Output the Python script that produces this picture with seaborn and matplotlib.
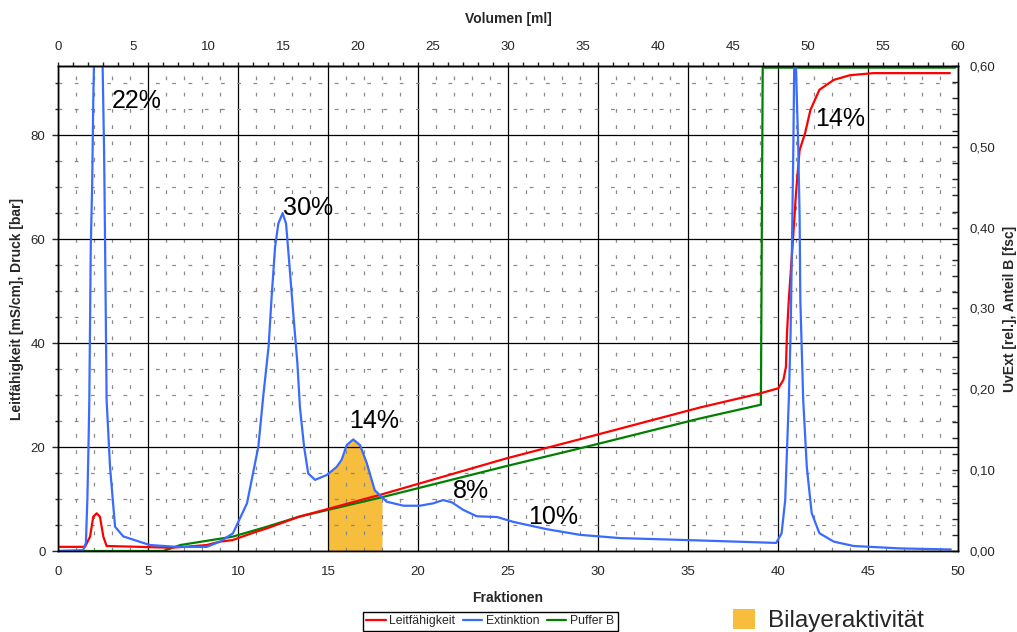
import numpy as np
import pandas as pd
import matplotlib
matplotlib.use("Agg")
import matplotlib.pyplot as plt
import seaborn as sns
from matplotlib.ticker import MultipleLocator, FixedLocator, FuncFormatter
from matplotlib.lines import Line2D
from matplotlib.patches import Patch

# ---- Chromatogram data --------------------------------------------------
# Extinktion (UV, relative units, right axis) vs. fraction number
ext_frac = [0.0, 1.4, 1.55, 1.63, 1.69, 1.74, 1.82, 1.90, 1.96, 2.05,
            2.20, 2.38, 2.48, 2.56, 2.61, 2.70, 2.89, 3.17, 3.63, 5.1,
            6.6, 8.26, 9.0, 9.72, 10.5, 11.13, 11.4, 11.7, 11.87, 12.06,
            12.24, 12.48, 12.67, 12.85, 13.07, 13.3, 13.44, 13.67, 13.9, 14.28,
            14.93, 15.48, 15.76, 16.04, 16.4, 16.78, 17.15, 17.6, 18.26, 19.2,
            20.1, 20.85, 21.4, 21.9, 22.5, 23.26, 24.4, 25.3, 27.15, 29.0,
            31.2, 35.7, 39.9, 40.2, 40.4, 40.5, 40.6, 40.7, 40.76, 40.85,
            40.9, 40.95, 41.0, 41.13, 41.2, 41.24, 41.4, 41.6, 41.87, 42.3,
            43.1, 44.2, 46.8, 49.6]
ext_val = [0.000, 0.001, 0.010, 0.063, 0.125, 0.187, 0.376, 0.455, 0.558, 0.660,
           0.750, 0.660, 0.598, 0.495, 0.393, 0.187, 0.104, 0.030, 0.018, 0.0074,
           0.0051, 0.0051, 0.0116, 0.0219, 0.059, 0.129, 0.191, 0.253, 0.315, 0.376,
           0.405, 0.418, 0.405, 0.356, 0.294, 0.232, 0.178, 0.129, 0.096, 0.088,
           0.094, 0.104, 0.113, 0.131, 0.138, 0.131, 0.109, 0.075, 0.061, 0.056,
           0.056, 0.059, 0.063, 0.060, 0.051, 0.043, 0.042, 0.036, 0.027, 0.020,
           0.016, 0.013, 0.010, 0.022, 0.063, 0.125, 0.187, 0.270, 0.354, 0.495,
           0.598, 0.650, 0.598, 0.495, 0.414, 0.311, 0.187, 0.104, 0.047, 0.022,
           0.0116, 0.0062, 0.0032, 0.0019]

# Leitfähigkeit (mS/cm, left axis)
cond_frac = [0.0, 1.5, 1.78, 1.96, 2.15, 2.33, 2.52, 2.7, 4.0, 6.0,
             6.6, 7.15, 8.26, 9.0, 9.7, 11.0, 11.6, 13.4, 17.9, 24.9,
             29.0, 35.67, 39.0, 40.02, 40.3, 40.44, 40.5, 40.6, 40.8, 41.0,
             41.2, 41.5, 41.8, 42.3, 43.1, 44.0, 45.3, 49.55]
cond_val = [0.8, 0.8, 2.75, 6.6, 7.25, 6.6, 2.75, 0.96, 0.85, 0.65,
            0.7, 0.83, 1.15, 1.8, 2.1, 3.7, 4.35, 6.6, 10.8, 17.8,
            21.5, 27.6, 30.3, 31.3, 32.9, 35.4, 41.9, 48.3, 58.2, 68.8,
            77.1, 80.3, 84.8, 88.7, 90.6, 91.5, 91.9, 91.9]

# Puffer B (fraction of buffer B, right axis)
buf_frac = [0.0, 5.85, 6.8, 9.7, 11.6, 13.4, 17.9, 24.9, 29.0, 35.67,
            39.05, 39.15, 49.85]
buf_val = [0.0, 0.0, 0.0074, 0.0177, 0.030, 0.0425, 0.066, 0.105, 0.127, 0.164,
           0.181, 0.598, 0.598]

# Fractions with bilayer activity
active_range = [15.0, 18.0]

# Peak annotations: (fraction, left-axis value, text)
peak_labels = [(3.0, 86.5, "22%"), (12.5, 66.0, "30%"), (16.15, 25.0, "14%"),
               (21.95, 11.5, "8%"), (26.1, 6.5, "10%"), (42.05, 83.0, "14%")]

# Tick values
frac_ticks = list(range(0, 51, 5))
volume_ticks = list(range(0, 61, 5))
volume_minor = list(range(0, 61, 1))

series_names = ["Leitfähigkeit", "Extinktion", "Puffer B"]
series_colors = ["#FF0000", "#3A6BFF", "#008000"]
fill_color = "#F7BD3C"

ml_per_fraction = 1.2
left_max = 93.27
right_max = 0.60

# ---- Figure -------------------------------------------------------------
sns.set_style("white")
plt.rcParams["font.family"] = ["Liberation Sans", "DejaVu Sans"]

fig = plt.figure(figsize=(10.17, 6.32), dpi=100)
ax = fig.add_axes([58 / 1017, 1 - 551 / 632, 900 / 1017, 485 / 632])
ax2 = ax.twinx()

ext_df = pd.DataFrame({"Fraktion": ext_frac, "Extinktion": ext_val})
cond_df = pd.DataFrame({"Fraktion": cond_frac, "Leitfähigkeit": cond_val})
buf_df = pd.DataFrame({"Fraktion": buf_frac, "Puffer B": buf_val})

ax.set_xlim(0, 50)
ax.set_ylim(0, left_max)
ax2.set_ylim(0, right_max)

# Shaded region under the UV trace for the active fractions
fx = np.array(ext_frac)
sel = (fx > active_range[0]) & (fx < active_range[1])
fill_x = np.concatenate([[active_range[0]], fx[sel], [active_range[1]]])
fill_y = np.interp(fill_x, ext_frac, ext_val)
ax.fill_between(fill_x, 0, fill_y, color=fill_color, lw=0, zorder=0.3,
                transform=ax2.transData)

# Traces: all live on the main axes so they stack above the grid;
# UV and buffer B use the right-hand scale.
lw = 1.6
sns.lineplot(data=buf_df, x="Fraktion", y="Puffer B", ax=ax, color=series_colors[2],
             lw=lw, estimator=None, sort=False, transform=ax2.transData, zorder=2)
sns.lineplot(data=cond_df, x="Fraktion", y="Leitfähigkeit", ax=ax, color=series_colors[0],
             lw=lw, estimator=None, sort=False, zorder=2.1)
sns.lineplot(data=ext_df, x="Fraktion", y="Extinktion", ax=ax, color=series_colors[1],
             lw=lw, estimator=None, sort=False, transform=ax2.transData, zorder=2.2)
ax.set_xlim(0, 50)
ax.set_ylim(0, left_max)
ax2.set_ylim(0, right_max)

# ---- Grid ---------------------------------------------------------------
ax.set_axisbelow(True)
ax.xaxis.set_major_locator(FixedLocator(frac_ticks))
ax.xaxis.set_minor_locator(MultipleLocator(1))
ax.yaxis.set_major_locator(MultipleLocator(20))
ax.yaxis.set_minor_locator(MultipleLocator(5))
ax.grid(which="major", color="black", lw=0.9, ls="-")
ax.grid(which="minor", color="#8a8a8a", lw=0.9, ls=(0, (3.0, 10.0)))

# ---- Axes styling -------------------------------------------------------
for a in (ax, ax2):
    for sp in a.spines.values():
        sp.set_color("black")
        sp.set_linewidth(1.0)

tick_fs = 9.5
ax.tick_params(axis="x", which="both", length=0, pad=11, labelsize=tick_fs)
ax.tick_params(axis="y", which="major", direction="out", length=4, width=1,
               pad=5, labelsize=tick_fs, left=True)
ax.tick_params(axis="y", which="minor", direction="out", length=2, width=1, left=True)

ax2.yaxis.set_major_locator(MultipleLocator(0.1))
ax2.yaxis.set_minor_locator(MultipleLocator(0.02))
ax2.yaxis.set_major_formatter(FuncFormatter(lambda v, p: f"{v:.2f}".replace(".", ",")))
ax2.tick_params(axis="y", which="both", direction="in", length=4, width=1,
                pad=8, labelsize=tick_fs)

# Volume scale on top
secax = ax.secondary_xaxis("top", functions=(lambda f: f * ml_per_fraction,
                                              lambda v: v / ml_per_fraction))
secax.xaxis.set_major_locator(FixedLocator(volume_ticks))
secax.xaxis.set_minor_locator(FixedLocator(volume_minor))
secax.tick_params(axis="x", which="both", direction="out", length=3, width=1,
                  pad=6, labelsize=tick_fs)
secax.spines["top"].set_linewidth(1.0)

label_kw = dict(fontsize=10, fontweight="bold")
ax.set_xlabel("Fraktionen", **label_kw)
ax.xaxis.set_label_coords(0.5, -0.083)
ax.set_ylabel("Leitfähigkeit [mS/cm], Druck [bar]", **label_kw)
ax.yaxis.set_label_coords(-0.0378, 0.5)
ax2.set_ylabel("UvExt [rel.], Anteil B [fsc]", **label_kw)
ax2.yaxis.set_label_coords(1.050, 0.5)
secax.set_xlabel("Volumen [ml]", labelpad=13, **label_kw)

# ---- Peak percentages ---------------------------------------------------
for fx_, fy_, txt in peak_labels:
    ax.text(fx_, fy_, txt, fontsize=18, ha="left", va="center", color="black", zorder=5)

# ---- Legends ------------------------------------------------------------
handles = [Line2D([0], [0], color=c, lw=1.6) for c in series_colors]
fig.legend(handles, series_names, loc="upper center", bbox_to_anchor=(0.482, 0.032),
           ncol=3, frameon=True, fancybox=False, edgecolor="black", framealpha=1,
           fontsize=8.8, handlelength=1.6, handletextpad=0.3, columnspacing=0.6,
           borderpad=0.3, borderaxespad=0)
fig.legend([Patch(facecolor=fill_color, edgecolor="none")], ["Bilayeraktivität"],
           loc="center left", bbox_to_anchor=(0.7205, 0.0185), frameon=False,
           fontsize=17.5, handlelength=0.9, handleheight=0.9, handletextpad=0.55,
           borderpad=0, borderaxespad=0)

fig.savefig("out.png", dpi=100)
